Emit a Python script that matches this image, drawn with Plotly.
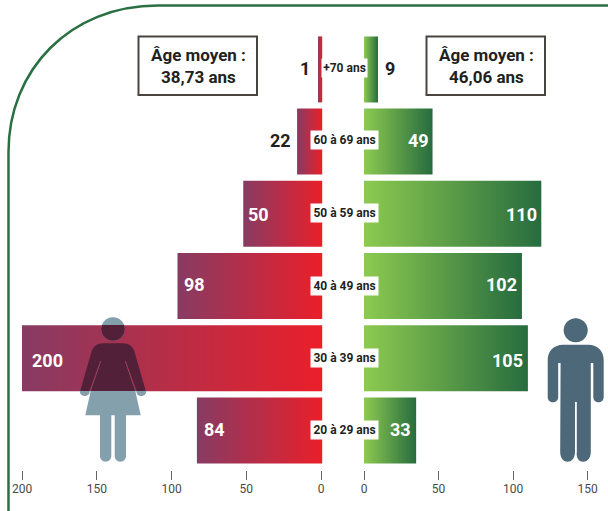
import math
import plotly.graph_objects as go

# ---------- data ----------
age_groups = ["20 à 29 ans", "30 à 39 ans", "40 à 49 ans", "50 à 59 ans", "60 à 69 ans", "+70 ans"]
women_labels = [84, 200, 98, 50, 22, 1]
men_labels = [33, 105, 102, 110, 49, 9]
# lengths as actually drawn against the axes (they differ slightly from the printed labels)
women_drawn = [83, 200, 96, 52, 16, 2]
men_drawn = [35, 110, 106, 119, 46, 9.4]
left_ticks = [200, 150, 100, 50, 0]
right_ticks = [0, 50, 100, 150]
avg_women = "Âge moyen :<br>38,73 ans"
avg_men = "Âge moyen :<br>46,06 ans"

# ---------- layout helpers ----------
W, H = 608, 511
px = lambda x: x / W
py = lambda y: 1 - y / H


def path(cmds):
    out = []
    for c in cmds:
        if isinstance(c, str):
            out.append(c)
        else:
            out.append(f"{px(c[0]):.5f},{py(c[1]):.5f}")
    return " ".join(out)


def circle(cx, cy, r, ymin=None):
    pts = []
    for k in range(73):
        a = 2 * math.pi * k / 72
        y = cy + r * math.sin(a)
        x = cx + r * math.cos(a)
        if ymin is not None and y < ymin:
            y = ymin
        pts.append((x, y))
    cmds = ["M", pts[0]]
    for p in pts[1:]:
        cmds += ["L", p]
    return path(cmds + ["Z"])


def rounded_leg(x0, x1, ytop, ybot):
    r = (x1 - x0) / 2
    k = 0.55 * r
    return ["M", (x0, ytop), "L", (x0, ybot - r),
            "C", (x0, ybot - r + k), (x0 + r - k, ybot), (x0 + r, ybot),
            "C", (x0 + r + k, ybot), (x1, ybot - r + k), (x1, ybot - r),
            "L", (x1, ytop), "Z"]


fig = go.Figure()
ROW_H = 0.457


def add_bar(value, row, colors, xa, ya):
    base = 0 if xa == "x2" else -0.8
    fig.add_trace(go.Scatter(
        x=[base, value, value, base, base],
        y=[row - ROW_H, row - ROW_H, row + ROW_H, row + ROW_H, row - ROW_H],
        xaxis=xa, yaxis=ya, mode="lines", line=dict(width=0), fill="toself",
        fillgradient=dict(type="horizontal", colorscale=colors),
        hoverinfo="skip", showlegend=False,
    ))


women_scale = [[0, "#873b63"], [1, "#ea1f2a"]]
men_scale = [[0, "#8dca50"], [1, "#276c3f"]]
for i in range(len(age_groups)):
    add_bar(women_drawn[i], i, women_scale, "x", "y")
    add_bar(men_drawn[i], i, men_scale, "x2", "y")

# ---------- shapes ----------
shapes = []
GREEN = "#2a7043"
shapes.append(dict(type="path", xref="paper", yref="paper", layer="below",
                   line=dict(color=GREEN, width=2.5),
                   path=path(["M", (8.5, 512), "L", (8.5, 152),
                              "C", (8.5, 70), (70, 5.5), (158, 5.5), "L", (609, 5.5)])))

BOX = "#4a4441"
for x0, x1 in [(138.5, 257), (426.5, 545)]:
    shapes.append(dict(type="rect", xref="paper", yref="paper",
                       x0=px(x0), x1=px(x1), y0=py(95), y1=py(36.5),
                       line=dict(color=BOX, width=2), fillcolor="white"))

# woman
WOMAN = "#84a0ad"
WDARK = "#53203a"
ws = dict(type="path", xref="paper", yref="paper", line=dict(width=0))
shapes.append(dict(ws, fillcolor=WOMAN, path=circle(113, 329, 11.8)))
shapes.append(dict(ws, fillcolor=WOMAN, path=path(rounded_leg(100, 111.3, 410, 461.7))))
shapes.append(dict(ws, fillcolor=WOMAN, path=path(rounded_leg(114.7, 126, 410, 461.7))))
shapes.append(dict(ws, fillcolor=WOMAN, path=path([
    "M", (101, 361), "L", (90.7, 391), "L", (85.3, 415.3), "L", (140.7, 415.3),
    "L", (135.3, 391), "L", (125, 361), "Z"])))
for sx in (1, -1):
    cx = 113
    f = lambda x: cx - sx * (cx - x)
    shapes.append(dict(ws, fillcolor=WOMAN, path=path([
        "M", (f(80.2), 390), "C", (f(79), 394), (f(82), 396), (f(84.7), 396),
        "C", (f(88), 396), (f(90), 394), (f(89.6), 390), "Z"])))
shapes.append(dict(ws, fillcolor=WDARK, path=circle(113, 329, 11.8, ymin=325)))
shapes.append(dict(ws, fillcolor=WDARK, path=path([
    "M", (80.2, 391), "L", (91.7, 351), "C", (93.5, 346), (98, 343.3), (103, 343.3),
    "L", (123, 343.3), "C", (128, 343.3), (132.5, 346), (134.3, 351),
    "L", (145.8, 391), "L", (136.5, 391), "L", (125.8, 360.7), "L", (125, 361),
    "L", (135.3, 391), "L", (90.7, 391), "L", (101, 361), "L", (100.2, 360.7),
    "L", (89.5, 391), "Z"])))

# man
MAN = "#4d6878"
shapes.append(dict(ws, fillcolor=MAN, path=circle(575.7, 330.3, 12)))
shapes.append(dict(ws, fillcolor=MAN, path=path([
    "M", (547.7, 397), "L", (547.7, 360),
    "C", (547.7, 351), (554, 344.7), (563, 344.7),
    "L", (588.5, 344.7), "C", (597.5, 344.7), (603.7, 351), (603.7, 360),
    "L", (603.7, 397), "C", (603.7, 404), (593.3, 404), (593.3, 397),
    "L", (593.3, 363), "L", (590.8, 363), "L", (590.8, 452),
    "C", (590.8, 465), (575, 465), (576.8, 452),
    "L", (576.8, 402), "L", (575, 402), "L", (575, 452),
    "C", (575, 465), (560.2, 465), (560.2, 452),
    "L", (560.6, 363), "L", (558.2, 363), "L", (558.2, 397),
    "C", (558.2, 404), (547.7, 404), (547.7, 397), "Z"])))

# ---------- annotations ----------
annotations = []
FONT = "Roboto"
DARK = "#231f20"

label_x_women = [214, 47, 194, 258, 280, 305]
label_x_men = [400, 507, 501, 521, 418, 390]
label_y = [429, 360, 284, 214, 141, 69]
box_y = [430, 358, 286, 213, 140, 68]
box_w = [67, 67, 67, 67, 67, 45]


def text(x, y, s, size, color, family=FONT, **kw):
    annotations.append(dict(xref="paper", yref="paper", x=px(x), y=py(y), text=s, showarrow=False,
                            xanchor="center", yanchor="middle",
                            font=dict(family=family, size=size, color=color), **kw))


for i, g in enumerate(age_groups):
    text(344.5, box_y[i], f"<b>{g}</b>", 12, DARK, bgcolor="white",
         width=box_w[i], height=18, borderpad=0)
    wl, ml = women_labels[i], men_labels[i]
    text(label_x_women[i], label_y[i], f"<b>{wl}</b>", 18, DARK if wl < 25 else "white")
    text(label_x_men[i], label_y[i], f"<b>{ml}</b>", 18, DARK if ml < 10 else "white")

text(198, 65.5, f"<b>{avg_women}</b>", 17, DARK)
text(486, 65.5, f"<b>{avg_men}</b>", 17, DARK)

# ---------- axes ----------
SPLIT = 342
SCALE_L, SCALE_R = 1.495, 1.49
X0_L, X0_R = 321, 364
TOP_Y, AXIS_Y = 0, 470
ROW0_Y, ROW_STEP = 430.4, 72.2
tick_font = dict(family=FONT, size=12, color="#4a4a4a")
axis_common = dict(ticks="outside", ticklen=9, tickwidth=1, tickcolor="#666666", showgrid=False,
                   zeroline=False, showline=False, tickfont=tick_font, tickmode="array",
                   ticklabelstandoff=-1)
fig.update_layout(
    width=W, height=H, margin=dict(l=0, r=0, t=0, b=0), autosize=False,
    paper_bgcolor="white", plot_bgcolor="rgba(0,0,0,0)", showlegend=False,
    shapes=shapes, annotations=annotations,
    xaxis=dict(domain=[0, SPLIT / W], anchor="y",
               range=[X0_L / SCALE_L, (X0_L - SPLIT) / SCALE_L],
               tickvals=left_ticks, ticktext=[str(t) for t in left_ticks], **axis_common),
    xaxis2=dict(domain=[SPLIT / W, 1], anchor="y",
                range=[(SPLIT - X0_R) / SCALE_R, (W - X0_R) / SCALE_R],
                tickvals=right_ticks, ticktext=[str(t) for t in right_ticks], **axis_common),
    yaxis=dict(domain=[1 - AXIS_Y / H, 1], visible=False,
               range=[(ROW0_Y - AXIS_Y) / ROW_STEP, (ROW0_Y - TOP_Y) / ROW_STEP]),
)

fig.write_html("out.html", post_script="document.body.style.margin='0';",
               config=dict(displayModeBar=False))
